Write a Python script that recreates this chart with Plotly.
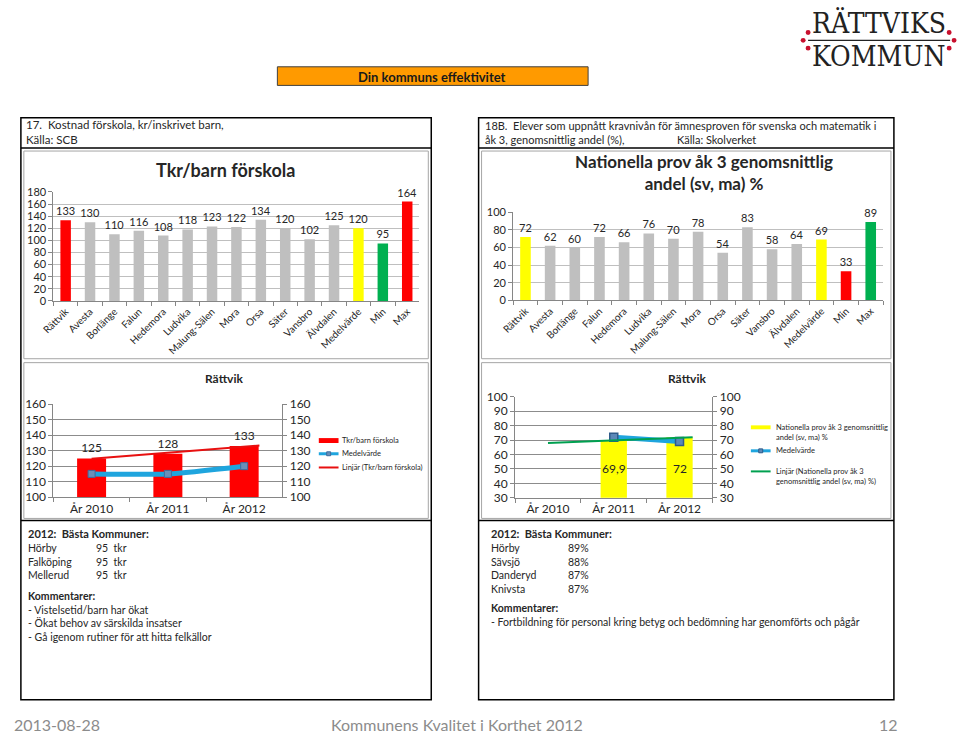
import plotly.graph_objects as go

W, H = 960, 739

def px(x):
    return x / W

def py(y):
    return 1 - y / H

# ---------------- DATA ----------------
kommuner = ["Rättvik", "Avesta", "Borlänge", "Falun", "Hedemora", "Ludvika",
            "Malung-Sälen", "Mora", "Orsa", "Säter", "Vansbro", "Älvdalen",
            "Medelvärde", "Min", "Max"]
kostnad = [133, 130, 110, 116, 108, 118, 123, 122, 134, 120, 102, 125, 120, 95, 164]
prov = [72, 62, 60, 72, 66, 76, 70, 78, 54, 83, 58, 64, 69, 33, 89]

ar = ["År 2010", "År 2011", "År 2012"]
rattvik_kostnad = [125, 128, 133]
medel_kostnad = [115, 115, 120]
trend_kostnad = [124.7, 133.3]          # Linjär trendline end values
rattvik_prov = [None, 69.9, 72]
medel_prov = [None, 72, 69]
trend_prov = [68, 72]

basta_kostnad_namn = ["Hörby", "Falköping", "Mellerud"]
basta_kostnad_varde = ["95  tkr", "95  tkr", "95  tkr"]
basta_prov_namn = ["Hörby", "Sävsjö", "Danderyd", "Knivsta"]
basta_prov_varde = ["89%", "88%", "87%", "87%"]
komm_kostnad = ["- Vistelsetid/barn har ökat", "- Ökat behov av särskilda insatser",
                "- Gå igenom rutiner för att hitta felkällor"]
komm_prov = ["- Fortbildning för personal kring betyg och bedömning har genomförts och pågår"]

# ---------------- STYLE ----------------
RED, GRAY, YEL, GRN = "#FF0000", "#BFBFBF", "#FFFF00", "#00B050"
BLUE = "#1FA5DE"
FONT = "Lato"
TXT = "#262626"
colors1 = [RED] + [GRAY] * 11 + [YEL, GRN, RED]
colors2 = [YEL] + [GRAY] * 11 + [YEL, RED, GRN]

fig = go.Figure()

# chart 1
fig.add_trace(go.Bar(x=kommuner, y=kostnad, marker=dict(color=colors1, line=dict(width=0)),
                     width=0.43, text=kostnad, textposition="outside", constraintext="none",
                     textfont=dict(size=11, color=TXT, family=FONT), cliponaxis=False,
                     xaxis="x", yaxis="y", showlegend=False))
# chart 2
fig.add_trace(go.Bar(x=kommuner, y=prov, marker=dict(color=colors2, line=dict(width=0)),
                     width=0.43, text=prov, textposition="outside", constraintext="none",
                     textfont=dict(size=11, color=TXT, family=FONT), cliponaxis=False,
                     xaxis="x2", yaxis="y2", showlegend=False))
# chart 3
fig.add_trace(go.Bar(x=ar, y=rattvik_kostnad, marker=dict(color=RED, line=dict(width=0)),
                     width=0.38, text=rattvik_kostnad, textposition="outside", constraintext="none",
                     textfont=dict(size=12, color=TXT, family=FONT), cliponaxis=False,
                     xaxis="x3", yaxis="y3", showlegend=False))
fig.add_trace(go.Scatter(x=ar, y=medel_kostnad, mode="lines+markers",
                         line=dict(color=BLUE, width=5, shape="spline", smoothing=0.6),
                         marker=dict(symbol="square", size=7, color="#6A8FB8",
                                     line=dict(color="#3E6C9E", width=1)),
                         xaxis="x3", yaxis="y4", showlegend=False))
fig.add_trace(go.Scatter(x=[0, 2.2], y=trend_kostnad, mode="lines",
                         line=dict(color="#E81010", width=2),
                         xaxis="x5", yaxis="y3", showlegend=False))
# chart 4
fig.add_trace(go.Bar(x=ar, y=rattvik_prov, marker=dict(color=YEL, line=dict(width=0)),
                     width=0.4, xaxis="x4", yaxis="y5", showlegend=False))
fig.add_trace(go.Scatter(x=ar, y=medel_prov, mode="lines+markers",
                         line=dict(color=BLUE, width=5),
                         marker=dict(symbol="square", size=8, color="#5B88B8",
                                     line=dict(color="#2F5B8A", width=1.5)),
                         xaxis="x4", yaxis="y6", showlegend=False))
fig.add_trace(go.Scatter(x=[0, 2.2], y=trend_prov, mode="lines",
                         line=dict(color="#00A050", width=2),
                         xaxis="x6", yaxis="y5", showlegend=False))

ax_common = dict(showline=True, linecolor="#868686", linewidth=1, zeroline=False,
                 tickfont=dict(family=FONT, size=11, color=TXT), ticks="outside",
                 ticklen=4, tickcolor="#868686", fixedrange=True)

cat_axis = dict(ax_common, type="category", tickson="boundaries", tickangle=-45,
                tickfont=dict(family=FONT, size=10, color=TXT), showgrid=False)

fig.update_layout(
    width=W, height=H, margin=dict(l=0, r=0, t=0, b=0),
    paper_bgcolor="white", plot_bgcolor="rgba(0,0,0,0)",
    font=dict(family=FONT, color=TXT),
    bargap=0.5,
    xaxis=dict(cat_axis, domain=[px(41), px(412)], anchor="y"),
    yaxis=dict(ax_common, domain=[py(299), py(187.7)], range=[0, 180], dtick=20,
               showgrid=True, gridcolor="#BFBFBF", anchor="x"),
    xaxis2=dict(cat_axis, domain=[px(507), px(882)], anchor="y2"),
    yaxis2=dict(ax_common, domain=[py(298.5), py(208.5)], range=[0, 100], dtick=20,
                showgrid=True, gridcolor="#BFBFBF", anchor="x2"),
    xaxis3=dict(ax_common, type="category", tickson="boundaries", domain=[px(41), px(273)],
                anchor="y3", tickfont=dict(family=FONT, size=12, color=TXT), showgrid=False),
    yaxis3=dict(ax_common, domain=[py(499.3), py(404.3)], range=[100, 160], dtick=10,
                showgrid=True, gridcolor="#8C8C8C", anchor="x3",
                tickfont=dict(family=FONT, size=12, color=TXT)),
    yaxis4=dict(ax_common, overlaying="y3", side="right", anchor="x3", range=[100, 160],
                dtick=10, showgrid=False, tickfont=dict(family=FONT, size=12, color=TXT)),
    xaxis5=dict(overlaying="x3", range=[-0.5, 2.5], visible=False, anchor="y3", fixedrange=True),
    xaxis4=dict(ax_common, type="category", tickson="boundaries", domain=[px(509), px(709)],
                anchor="y5", tickfont=dict(family=FONT, size=12, color=TXT), showgrid=False),
    yaxis5=dict(ax_common, domain=[py(500), py(396.7)], range=[30, 100], dtick=10,
                showgrid=True, gridcolor="#8C8C8C", anchor="x4",
                tickfont=dict(family=FONT, size=12, color=TXT)),
    yaxis6=dict(ax_common, overlaying="y5", side="right", anchor="x4", range=[30, 100],
                dtick=10, showgrid=False, tickfont=dict(family=FONT, size=12, color=TXT)),
    xaxis6=dict(overlaying="x4", range=[-0.5, 2.5], visible=False, anchor="y5", fixedrange=True),
)

shapes = []
ann = []


def rect(x0, y0, x1, y1, color="black", width=1.5, fill=None, layer="below"):
    shapes.append(dict(type="rect", xref="paper", yref="paper", x0=px(x0), x1=px(x1),
                       y0=py(y1), y1=py(y0), line=dict(color=color, width=width),
                       fillcolor=fill if fill else "rgba(0,0,0,0)", layer=layer))


def line(x0, y0, x1, y1, color="black", width=1.5, layer="below"):
    shapes.append(dict(type="line", xref="paper", yref="paper", x0=px(x0), x1=px(x1),
                       y0=py(y0), y1=py(y1), line=dict(color=color, width=width), layer=layer))


def text(x, y, s, size=12, color=TXT, anchor="left", bold=False, family=FONT,
         yanchor="middle", align="left"):
    if bold:
        s = "<b>" + s + "</b>"
    ann.append(dict(x=px(x), y=py(y), xref="paper", yref="paper", text=s, showarrow=False,
                    xanchor=anchor, yanchor=yanchor, align=align, borderpad=0,
                    font=dict(size=size, color=color, family=family)))


# orange banner
rect(268, 60, 583, 79, color="#404040", width=1, fill="#FF9A00")
text(425, 70, "Din kommuns effektivitet", size=13, bold=True, anchor="center", color="#1a1a1a")

# logo
line(806, 33, 950, 33, color="#222", width=1.2)
for (cx, cy) in [(806, 25), (801, 33), (806, 41), (949, 25), (954, 33), (949, 41)]:
    shapes.append(dict(type="circle", xref="paper", yref="paper", x0=px(cx - 2.5), x1=px(cx + 2.5),
                       y0=py(cy + 2.5), y1=py(cy - 2.5), fillcolor="#C8102E", line=dict(width=0)))
text(878, 16, "RÄTTVIKS", size=28, anchor="center", family="DejaVu Serif Condensed", color="#222")
text(878, 49, "KOMMUN", size=28, anchor="center", family="DejaVu Serif Condensed", color="#222")

# boxes
for (bx0, bx1) in [(8, 424), (472, 893)]:
    rect(bx0, 112, bx1, 706, color="black", width=1.5)
    line(bx0, 143, bx1, 143)
    line(bx0, 523, bx1, 523)
    rect(bx0 + 3, 146, bx1 - 3, 358, color="#A6A6A6", width=1)
    rect(bx0 + 3, 362, bx1 - 3, 521, color="#A6A6A6", width=1)

# headers
text(12, 127, "17.  Kostnad förskola, kr/inskrivet barn,<br>Källa: SCB", size=11.5)
text(477, 127, "18B.  Elever som uppnått kravnivån för ämnesproven för svenska och matematik i<br>"
     "åk 3, genomsnittlig andel (%),", size=11)
text(672, 134, "Källa: Skolverket", size=11)

# chart titles
text(215, 165, "Tkr/barn förskola", size=18, bold=True, anchor="center")
text(700, 168, "Nationella prov åk 3 genomsnittlig<br>andel (sv, ma) %", size=17, bold=True,
     anchor="center", align="center")
text(214, 378, "Rättvik", size=12, bold=True, anchor="center")
text(683, 378, "Rättvik", size=12, bold=True, anchor="center")

# chart 4 bar labels inside bars
for i, v in enumerate(rattvik_prov):
    if v is not None:
        ann.append(dict(x=ar[i], y=50, xref="x4", yref="y5", text=f"{v:g}".replace(".", ","),
                        showarrow=False, font=dict(size=12, color=TXT, family=FONT)))

# legend chart 3
rect(310, 439, 330, 444, color=RED, width=0, fill=RED, layer="above")
line(310, 455, 330, 455, color=BLUE, width=3, layer="above")
rect(318, 453, 322, 457, color="#3E6C9E", width=1, fill="#6A8FB8", layer="above")
line(310, 469, 330, 469, color="#E81010", width=2, layer="above")
text(333, 441, "Tkr/barn förskola", size=7.5)
text(333, 455, "Medelvärde", size=7.5)
text(333, 469, "Linjär (Tkr/barn förskola)", size=7.5)

# legend chart 4
rect(748, 426, 768, 430, color=YEL, width=0, fill=YEL, layer="above")
line(748, 452, 768, 452, color=BLUE, width=3, layer="above")
rect(756, 450, 760, 454, color="#2F5B8A", width=1, fill="#5B88B8", layer="above")
line(748, 473, 768, 473, color="#00A050", width=2, layer="above")
text(772, 433, "Nationella prov åk 3 genomsnittlig<br>andel (sv, ma) %", size=7.5)
text(772, 452, "Medelvärde", size=7.5)
text(772, 478, "Linjär (Nationella prov åk 3<br>genomsnittlig andel (sv, ma) %)", size=7.5)

# text boxes
FS = 10.5
text(14, 536, "2012:  Bästa Kommuner:", size=FS + 0.5, bold=True)
text(14, 544, "<br>".join(basta_kostnad_namn), size=FS, yanchor="top")
text(83, 544, "<br>".join(basta_kostnad_varde), size=FS, yanchor="top")
text(14, 593, "<b>Kommentarer:</b><br>" + "<br>".join(komm_kostnad), size=FS, yanchor="top")

text(484, 536, "2012:  Bästa Kommuner:", size=FS + 0.5, bold=True)
text(484, 544, "<br>".join(basta_prov_namn), size=FS, yanchor="top")
text(562, 544, "<br>".join(basta_prov_varde), size=FS, yanchor="top")
text(484, 605, "<b>Kommentarer:</b><br>" + "<br>".join(komm_prov), size=FS, yanchor="top")

# footer
text(0, 731, "2013-08-28", size=16, color="#8C8C8C")
text(450, 731, "Kommunens Kvalitet i Korthet 2012", size=16, color="#8C8C8C", anchor="center")
text(898, 731, "12", size=16, color="#8C8C8C", anchor="right")

fig.update_layout(shapes=shapes, annotations=ann)
fig.write_html("out.html")
